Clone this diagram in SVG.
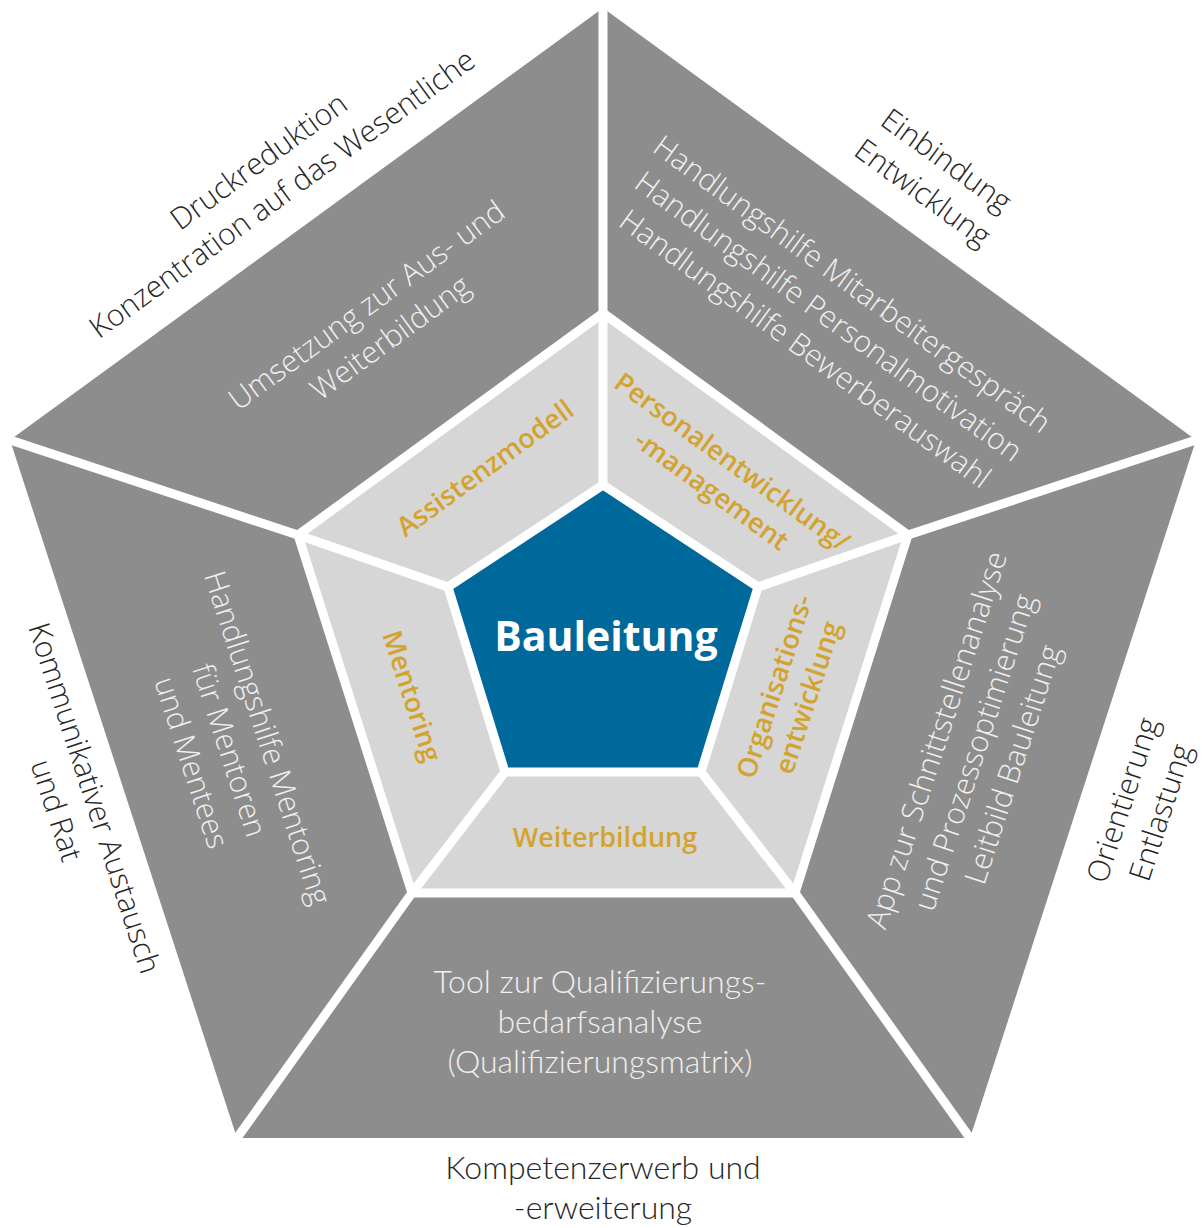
<svg xmlns="http://www.w3.org/2000/svg" width="1202" height="1228" viewBox="0 0 1202 1228">
<style>
.outer{fill:#8d8d8d}
.mid{fill:#d6d6d6}
.core{fill:#00699c}
.sep{fill:none;stroke:#ffffff;stroke-width:9;stroke-linejoin:miter;stroke-linecap:butt}
.wt{font-family:"Open Sans","DejaVu Sans",sans-serif;font-weight:300;font-size:30px;fill:#f0f0f0;text-anchor:middle}
.wc{font-family:Lato,"Liberation Sans",sans-serif;font-weight:300;font-size:32px;fill:#f0f0f0;text-anchor:middle}
.gt{font-family:"Open Sans","DejaVu Sans",sans-serif;font-weight:600;font-size:27px;fill:#d3a330;text-anchor:middle}
.lb{font-family:"Open Sans","DejaVu Sans",sans-serif;font-weight:300;font-size:30px;fill:#262626;text-anchor:middle}
.lc{font-family:Lato,"Liberation Sans",sans-serif;font-weight:300;font-size:32px;fill:#262626;text-anchor:middle}
.ct{font-family:"Open Sans","DejaVu Sans",sans-serif;font-weight:700;font-size:41px;fill:#ffffff;text-anchor:middle}
</style>

<g id="outer-top-left">
<polygon class="outer" points="10,440 603,8 603,313 298,535"/>
<g transform="translate(378 321) rotate(-36)"><text class="wt" y="-9">Umsetzung zur Aus- und</text><text class="wt" y="31">Weiterbildung</text></g>
</g>
<g id="outer-top-right">
<polygon class="outer" points="603,8 1196,440 908,535 603,313"/>
<g transform="translate(829 316) rotate(36)"><text class="wt" y="-29">Handlungshilfe Mitarbeitergespräch</text><text class="wt" y="11">Handlungshilfe Personalmotivation</text><text class="wt" y="51">Handlungshilfe Bewerberauswahl</text></g>
</g>
<g id="outer-right">
<polygon class="outer" points="1196,440 970,1138 795,893 908,535"/>
<g transform="translate(974 752) rotate(-72)"><text class="wt" y="-29">App zur Schnittstellenanalyse</text><text class="wt" y="11">und Prozessoptimierung</text><text class="wt" y="51">Leitbild Bauleitung</text></g>
</g>
<g id="outer-bottom">
<polygon class="outer" points="970,1138 237,1138 412,893 795,893"/>
<text class="wc" x="600" y="993">Tool zur Qualifizierungs-</text>
<text class="wc" x="600" y="1033">bedarfsanalyse</text>
<text class="wc" x="600" y="1073">(Qualifizierungsmatrix)</text>
</g>
<g id="outer-left">
<polygon class="outer" points="237,1138 10,440 298,535 412,893"/>
<g transform="translate(230 750) rotate(72)"><text class="wt" y="-29">Handlungshilfe Mentoring</text><text class="wt" y="11">für Mentoren</text><text class="wt" y="51">und Mentees</text></g>
</g>

<g id="mid-assistenzmodell">
<polygon class="mid" points="298,535 603,313 603,485 448,587"/>
<g transform="translate(485 468) rotate(-36)"><text class="gt" y="9.5">Assistenzmodell</text></g>
</g>
<g id="mid-personalentwicklung">
<polygon class="mid" points="603,313 908,535 758,587 603,485"/>
<g transform="translate(722 476) rotate(36)"><text class="gt" y="-8">Personalentwicklung/</text><text class="gt" y="27">-management</text></g>
</g>
<g id="mid-organisationsentwicklung">
<polygon class="mid" points="908,535 795,893 701,772 758,587"/>
<g transform="translate(791 692) rotate(-72)"><text class="gt" y="-8">Organisations-</text><text class="gt" y="27">entwicklung</text></g>
</g>
<g id="mid-weiterbildung">
<polygon class="mid" points="795,893 412,893 505,772 701,772"/>
<text class="gt" x="605" y="847">Weiterbildung</text>
</g>
<g id="mid-mentoring">
<polygon class="mid" points="412,893 298,535 448,587 505,772"/>
<g transform="translate(412 696) rotate(72)"><text class="gt" y="9.5">Mentoring</text></g>
</g>

<g id="core-bauleitung">
<polygon class="core" points="603,485 758,587 701,772 505,772 448,587"/>
<text class="ct" x="606" y="651">Bauleitung</text>
</g>

<g id="separators">
<polygon class="sep" points="603,313 908,535 795,893 412,893 298,535"/>
<polygon class="sep" points="603,485 758,587 701,772 505,772 448,587"/>
<polyline class="sep" points="603,8 603,313 603,485"/>
<polyline class="sep" points="1196,440 908,535 758,587"/>
<polyline class="sep" points="970,1138 795,893 701,772"/>
<polyline class="sep" points="237,1138 412,893 505,772"/>
<polyline class="sep" points="10,440 298,535 448,587"/>
</g>

<g id="label-top-left">
<g transform="translate(270 177) rotate(-36)"><text class="lb" y="-9">Druckreduktion</text><text class="lb" y="31">Konzentration auf das Wesentliche</text></g>
</g>
<g id="label-top-right">
<g transform="translate(935 176) rotate(36)"><text class="lb" y="-9">Einbindung</text><text class="lb" y="31">Entwicklung</text></g>
</g>
<g id="label-right">
<g transform="translate(1141 806) rotate(-72)"><text class="lb" y="-9">Orientierung</text><text class="lb" y="31">Entlastung</text></g>
</g>
<g id="label-bottom">
<text class="lc" x="603" y="1179">Kompetenzerwerb und</text>
<text class="lc" x="603" y="1219">-erweiterung</text>
</g>
<g id="label-left">
<g transform="translate(76 804) rotate(72)"><text class="lb" y="-9">Kommunikativer Austausch</text><text class="lb" y="31">und Rat</text></g>
</g>
</svg>
